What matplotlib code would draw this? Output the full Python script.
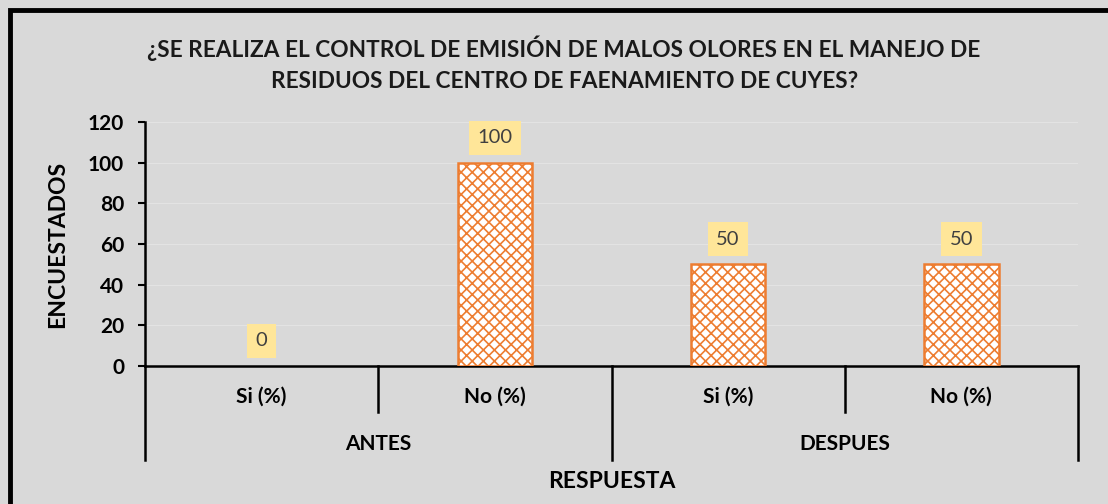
import matplotlib.pyplot as plt
from matplotlib.patches import Rectangle
from matplotlib.transforms import blended_transform_factory

plt.rcParams['font.family'] = ['Lato', 'DejaVu Sans']
plt.rcParams['hatch.linewidth'] = 1.2

# data
respuestas = ['Si (%)', 'No (%)', 'Si (%)', 'No (%)']
grupos = ['ANTES', 'DESPUES']
valores = [0, 100, 50, 50]

bg = '#d9d9d9'
naranja = '#ed7d31'

fig = plt.figure(figsize=(11.08, 5.04), dpi=100, facecolor=bg)
ax = fig.add_axes([145/1108, 1-366/504, (1078-145)/1108, (366-122)/504])
ax.set_facecolor(bg)

x = list(range(len(valores)))
bars = ax.bar(x, valores, width=0.32, color='white', edgecolor=naranja,
              hatch='xxx', linewidth=1.8, zorder=3)
for b, v in zip(bars, valores):
    if v == 0:
        b.set_linewidth(0)

for xi, v in zip(x, valores):
    ax.annotate(str(v), (xi, v), xytext=(0, 18), textcoords='offset points',
                ha='center', va='center', fontsize=14.5, color='#404040',
                bbox=dict(boxstyle='square,pad=0.42', fc='#ffe699', ec='none'))

ax.set_xlim(-0.5, 3.5)
ax.set_ylim(0, 120)
ax.set_yticks(range(0, 121, 20))
ax.tick_params(axis='y', labelsize=15, length=5, width=1.5, direction='out', pad=10)
for t in ax.get_yticklabels():
    t.set_fontweight('bold')
ax.grid(axis='y', color='#e3e3e3', linewidth=0.8, zorder=0)

for s in ['top', 'right']:
    ax.spines[s].set_visible(False)
ax.spines['left'].set_linewidth(1.8)
ax.spines['bottom'].set_linewidth(1.8)

ax.set_xticks(x)
ax.set_xticklabels(respuestas, fontsize=15, fontweight='bold')
ax.tick_params(axis='x', length=0, pad=15)

# hierarchical axis lines
tr = blended_transform_factory(ax.transData, ax.transAxes)
corto = -46/244
largo = -94/244
ax.plot([-0.5, -0.5], [0, largo], color='black', lw=1.8, transform=tr, clip_on=False)
for xd, ln in [(0.5, corto), (1.5, largo), (2.5, corto), (3.5, largo)]:
    ax.plot([xd, xd], [0, ln], color='black', lw=1.8, transform=tr, clip_on=False)
for i, g in enumerate(grupos):
    ax.text(2*i + 0.5, -78/244, g, transform=tr, ha='center', va='center',
            fontsize=15, fontweight='bold')

ax.set_ylabel('ENCUESTADOS', fontsize=16.5, fontweight='bold', labelpad=14)
fig.text(612/1108, 1-481/504, 'RESPUESTA', ha='center', va='center',
         fontsize=16.5, fontweight='bold')

fig.text(564/1108, 1-48/504, '¿SE REALIZA EL CONTROL DE EMISIÓN DE MALOS OLORES EN EL MANEJO DE',
         ha='center', va='center', fontsize=16.3, fontweight='bold', color='#1a1a1a')
fig.text(565/1108, 1-82/504, 'RESIDUOS DEL CENTRO DE FAENAMIENTO DE CUYES?',
         ha='center', va='center', fontsize=16.3, fontweight='bold', color='#1a1a1a')

fig.patches.append(Rectangle((10/1108, -0.05), 1.2, 1-10/504+0.05, transform=fig.transFigure,
                             fill=False, ec='black', lw=3.5))

fig.savefig('out.png', dpi=100, facecolor=bg)
